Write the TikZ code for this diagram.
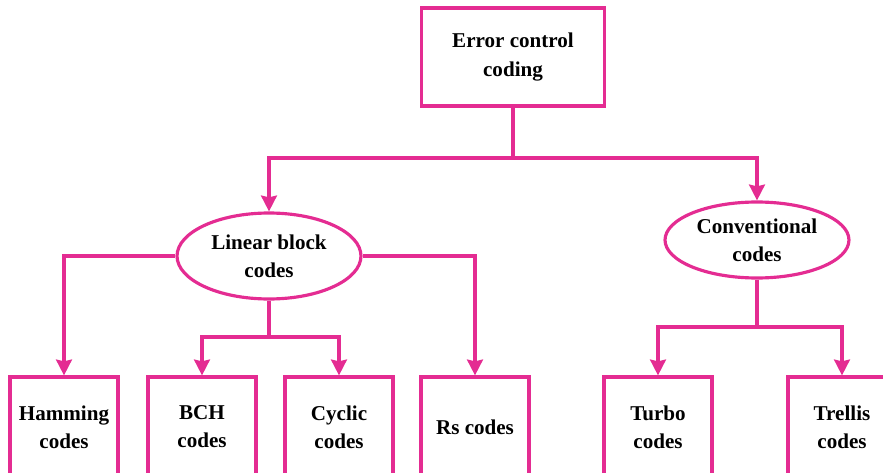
\documentclass[tikz,border=0pt]{standalone}
\usepackage{fontspec}
\setmainfont{Liberation Serif}
\usetikzlibrary{positioning, arrows.meta, shapes.geometric}
\definecolor{linkpink}{RGB}{228,44,146}

\begin{document}
\begin{tikzpicture}[
  x=0.02cm, y=-0.02cm,
  >={Stealth[inset=1pt,width=9pt,length=9pt]},
  font=\fontsize{12}{16}\selectfont\bfseries,
  box/.style={draw=linkpink, line width=1.8pt, fill=white, inner sep=0pt,
              minimum width=2.16cm, minimum height=2cm, align=center},
  oval/.style={ellipse, draw=linkpink, line width=1.8pt, fill=white,
               inner sep=0pt, minimum width=3.68cm, align=center},
  link/.style={linkpink, line width=1.8pt},
]
\useasboundingbox (0,0) rectangle (883,473);
\clip (0,0) rectangle (883,473);

% top
\node[box, minimum width=3.66cm, minimum height=1.96cm] (ecc) at (513,57)
  {Error control\\coding};

% second level
\node[oval, minimum height=1.72cm] (lin) at (269,256) {Linear block\\codes};
\node[oval, minimum height=1.52cm] (conv) at (757,240) {Conventional\\codes};

% leaves
\node[box] (ham) at (64,427) {Hamming\\codes};
\node[box] (bch) at (202,427) {BCH\\codes};
\node[box] (cyc) at (339,427) {Cyclic\\codes};
\node[box] (rs) at (475,427) {Rs codes};
\node[box] (turbo) at (658,427) {Turbo\\codes};
\node[box] (trellis) at (842,427) {Trellis\\codes};

% split points
\coordinate (topsplit) at (513,158);
\coordinate (linsplit) at (269,337);
\coordinate (convsplit) at (757,327);

% connectors
\draw[link] (ecc) -- (topsplit);
\draw[link,->] (topsplit) -| (lin);
\draw[link,->] (topsplit) -| (conv);

\draw[link,->] (lin.west) -| (ham);
\draw[link,->] (lin.east) -| (rs);
\draw[link] (lin) -- (linsplit);
\draw[link,->] (linsplit) -| (bch);
\draw[link,->] (linsplit) -| (cyc);

\draw[link] (conv) -- (convsplit);
\draw[link,->] (convsplit) -| (turbo);
\draw[link,->] (convsplit) -| (trellis);

\end{tikzpicture}
\end{document}
